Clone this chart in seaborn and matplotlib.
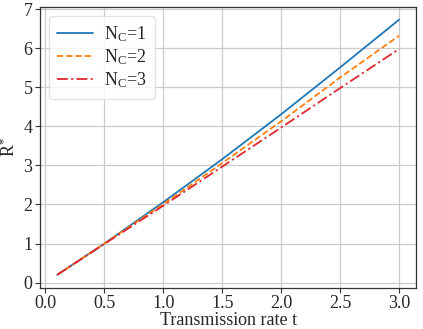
import numpy as np
import pandas as pd
import matplotlib
matplotlib.use("Agg")
import matplotlib.pyplot as plt
import seaborn as sns

t = [0.1, 0.5, 1.0, 1.5, 2.0, 2.5, 3.0]
r_nc1 = [0.2, 1.0, 2.06, 3.16, 4.31, 5.51, 6.73]
r_nc2 = [0.2, 1.0, 2.01, 3.06, 4.13, 5.25, 6.32]
r_nc3 = [0.2, 0.99, 1.97, 2.97, 3.97, 4.98, 5.98]
labels = [r"N$_{\rm C}$=1", r"N$_{\rm C}$=2", r"N$_{\rm C}$=3"]

sns.set_style("whitegrid")
plt.rcParams["font.family"] = ["Liberation Serif", "DejaVu Serif"]
plt.rcParams["mathtext.fontset"] = "custom"
plt.rcParams["mathtext.rm"] = "Liberation Serif"
plt.rcParams["mathtext.it"] = "Liberation Serif:italic"

df = pd.concat([
    pd.DataFrame({"t": t, "R": r_nc1, "series": labels[0]}),
    pd.DataFrame({"t": t, "R": r_nc2, "series": labels[1]}),
    pd.DataFrame({"t": t, "R": r_nc3, "series": labels[2]}),
])

fig = plt.figure(figsize=(4.23, 3.29), dpi=100)
ax = fig.add_axes([0.095, 0.126, 0.889, 0.853])
palette = {labels[0]: "#1f77b4", labels[1]: "#ff7f0e", labels[2]: "#e0282e"}
dashes = {labels[0]: "", labels[1]: (3.5, 1.6), labels[2]: (6, 1.8, 1.2, 1.8)}
sns.lineplot(data=df, x="t", y="R", hue="series", style="series",
             palette=palette, dashes=dashes, ax=ax, linewidth=1.3)

ax.set_xticks([0.0, 0.5, 1.0, 1.5, 2.0, 2.5, 3.0])
ax.set_yticks(range(0, 8))
ax.tick_params(labelsize=13, length=3.5, width=0.8, color="#333333",
               bottom=True, left=True, pad=2)
ax.grid(color="#cccccc", linewidth=0.9)
for s in ax.spines.values():
    s.set_color("#333333")
    s.set_linewidth(0.9)
ax.set_xlabel("Transmission rate t", fontsize=13, labelpad=0)
ax.set_ylabel(r"R$^{*}$", fontsize=13, labelpad=3)
leg = ax.legend(loc="upper left", fontsize=13, frameon=True, handlelength=2.0,
                borderpad=0.45, labelspacing=0.2, handletextpad=0.6,
                borderaxespad=0.5)
leg.get_frame().set_edgecolor("#dddddd")
fig.savefig("out.png", dpi=100)
